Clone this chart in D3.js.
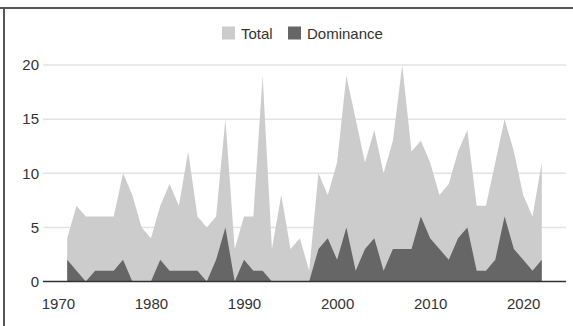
<!DOCTYPE html>
<html><head><meta charset="utf-8">
<script src="https://cdn.jsdelivr.net/npm/d3@7"></script>
<style>body{margin:0;background:#fff}svg{display:block;font-family:"Liberation Sans",Arial,sans-serif}</style>
</head><body><svg id="c" width="573" height="326"></svg>
<script>
const years = d3.range(1971, 2023);
const total = [4,7,6,6,6,6,10,8,5,4,7,9,7,12,6,5,6,15,3,6,6,19,3,8,3,4,1,10,8,11,19,15,11,14,10,13,20,12,13,11,8,9,12,14,7,7,11,15,12,8,6,11];
const dominance = [2,1,0,1,1,1,2,0,0,0,2,1,1,1,1,0,2,5,0,2,1,1,0,0,0,0,0,3,4,2,5,1,3,4,1,3,3,3,6,4,3,2,4,5,1,1,2,6,3,2,1,2];
const yTicks = [0,5,10,15,20];
const xTicks = [1970,1980,1990,2000,2010,2020];
const seriesNames = ["Total","Dominance"];
const colors = ["#cccccc","#666666"];

const svg = d3.select("#c");
const x = d3.scaleLinear().domain([1968.4, 2024.6]).range([43, 566]);
const y = d3.scaleLinear().domain([0, 20]).range([281.5, 65]);

// frame
svg.append("line").attr("x1",0).attr("x2",573).attr("y1",8).attr("y2",8).attr("stroke","#555").attr("stroke-width",2);
svg.append("line").attr("x1",4).attr("x2",4).attr("y1",7).attr("y2",326).attr("stroke","#555").attr("stroke-width",2);

// grid
svg.append("g").selectAll("line").data(yTicks.filter(d=>d>0)).join("line")
  .attr("x1",43).attr("x2",566).attr("y1",d=>y(d)).attr("y2",d=>y(d))
  .attr("stroke","#e3e3e3").attr("stroke-width",1.5);

const area = vals => d3.area().x((d,i)=>x(years[i])).y0(y(0)).y1(d=>y(d))(vals);
svg.append("path").attr("d",area(total)).attr("fill",colors[0]);
svg.append("path").attr("d",area(dominance)).attr("fill",colors[1]);

// baseline
svg.append("line").attr("x1",43).attr("x2",566).attr("y1",y(0)).attr("y2",y(0)).attr("stroke","#333").attr("stroke-width",1.5);

// y axis labels
const yAxis = d3.axisLeft(y).tickValues(yTicks).tickSize(0).tickPadding(0);
const gy = svg.append("g").attr("transform","translate(39,0)").call(yAxis);
gy.select(".domain").remove();
gy.selectAll("text").attr("font-size",15).attr("fill","#333").attr("font-family","Liberation Sans, Arial, sans-serif");

// x axis labels
const xAxis = d3.axisBottom(x).tickValues(xTicks).tickFormat(d3.format("d")).tickSize(0).tickPadding(0);
const gx = svg.append("g").attr("transform","translate(0,298)").call(xAxis);
gx.select(".domain").remove();
gx.selectAll("text").attr("font-size",15).attr("fill","#333").attr("font-family","Liberation Sans, Arial, sans-serif");

// legend
const leg = [{n:seriesNames[0],c:colors[0],sx:222,tx:241},{n:seriesNames[1],c:colors[1],sx:288,tx:307}];
const lg = svg.append("g");
lg.selectAll("rect").data(leg).join("rect").attr("x",d=>d.sx).attr("y",26.5).attr("width",13).attr("height",13).attr("fill",d=>d.c);
lg.selectAll("text").data(leg).join("text").attr("x",d=>d.tx).attr("y",39).attr("font-size",15).attr("fill","#333").text(d=>d.n);
</script></body></html>
